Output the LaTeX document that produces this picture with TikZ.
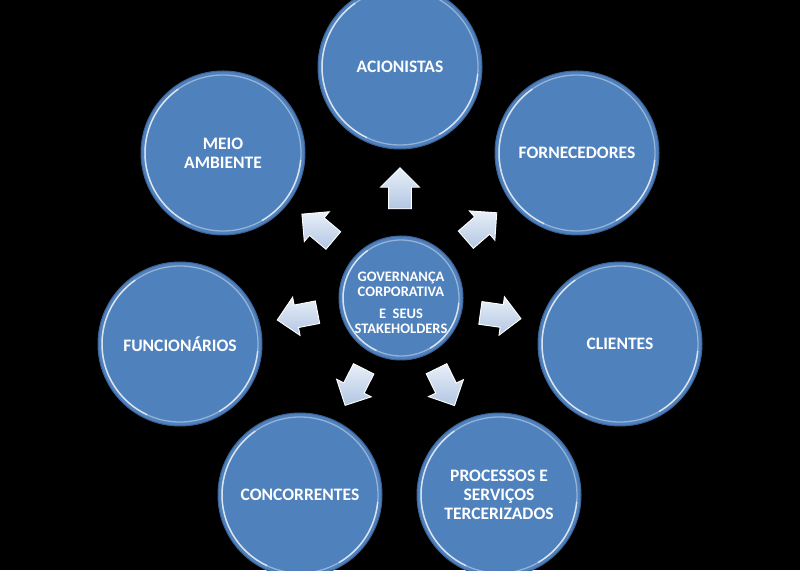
\documentclass[tikz,border=0pt]{standalone}
\usepackage{fontspec}
\setmainfont{Carlito}
\usetikzlibrary{shapes.arrows}
\definecolor{circblue}{RGB}{79,129,189}
\definecolor{rimblue}{RGB}{58,98,152}
\definecolor{arrowlight}{RGB}{232,239,248}
\definecolor{arrowdark}{RGB}{178,198,226}
\tikzset{
  stake/.style={circle, minimum size=164pt, inner sep=0pt, fill=circblue,
    draw=rimblue, line width=1pt, text=white, align=center,
    font=\bfseries\fontsize{17.5}{19}\selectfont},
  hub/.style={stake, minimum size=124pt},
  hubtext/.style={text=white, align=center, font=\bfseries\fontsize{14.5}{15}\selectfont},
  rim/.style={white, opacity=0.4, line width=1.3pt},
  rimhi/.style={white, opacity=0.65, line width=1.5pt},
  blockarrow/.style={single arrow, draw=white, line width=0.9pt,
    top color=arrowlight, bottom color=arrowdark, inner xsep=0pt, inner ysep=11pt,
    minimum height=41pt, single arrow head extend=8pt}
}
\begin{document}
\begin{tikzpicture}[x=1pt,y=1pt]
  \fill[black] (0,0) rectangle (800,570);
  \useasboundingbox (0,0) rectangle (800,570);

  % stakeholder circles
  \node[stake] (acion) at (400,503) {ACIONISTAS};
  \node[stake] (forn)  at (577,417) {FORNECEDORES};
  \node[stake] (cli)   at (620,226) {CLIENTES};
  \node[stake] (proc)  at (499,75)  {PROCESSOS E\\SERVIÇOS\\TERCERIZADOS};
  \node[stake] (conc)  at (300,75)  {CONCORRENTES};
  \node[stake] (func)  at (180,226) {FUNCIONÁRIOS};
  \node[stake] (meio)  at (223,417) {MEIO\\AMBIENTE};

  % central circle
  \node[hub] (gov) at (401,272) {};

  % glossy rims
  \foreach \n in {acion,forn,cli,proc,conc,func,meio} {
    \draw[rim] (\n.center) circle (78);
    \draw[rimhi] ([shift={(125:78)}]\n.center) arc (125:245:78);
    \draw[rimhi] ([shift={(-60:78)}]\n.center) arc (-60:-5:78);
  }
  \draw[rim] (gov.center) circle (58);
  \draw[rimhi] ([shift={(125:58)}]gov.center) arc (125:245:58);
  \draw[rimhi] ([shift={(-60:58)}]gov.center) arc (-60:-5:58);

  \node[hubtext] (govtext) at ([yshift=-5pt]gov.center)
    {GOVERNANÇA\\CORPORATIVA\\[7pt]E\ \ SEUS\\STAKEHOLDERS};

  % block arrows
  \node[blockarrow, rotate=90]   (a1) at (400,376) {};
  \node[blockarrow, rotate=41]   (a2) at (477,340) {};
  \node[blockarrow, rotate=-8]   (a3) at (495,255) {};
  \node[blockarrow, rotate=-64]  (a4) at (443,188) {};
  \node[blockarrow, rotate=-117] (a5) at (357,188) {};
  \node[blockarrow, rotate=191]  (a6) at (303,255) {};
  \node[blockarrow, rotate=140]  (a7) at (322,339) {};
\end{tikzpicture}
\end{document}
